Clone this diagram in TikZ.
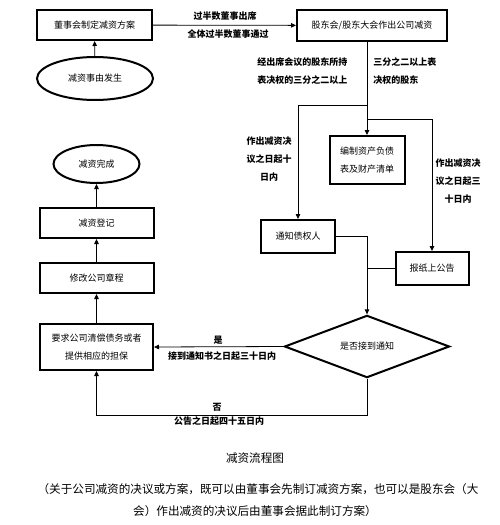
\documentclass[tikz,border=0pt]{standalone}
\usepackage{fontspec}
\setmainfont{Noto Sans CJK SC}
\usetikzlibrary{shapes.geometric,arrows.meta}

\begin{document}
\begin{tikzpicture}[x=1pt, y=-1pt, line width=0.8pt, >={Triangle[length=5pt,width=4.5pt]},
    main/.style = {draw, rectangle, line width=2pt, align=center, inner sep=0pt, font=\fontsize{9}{18}\selectfont},
    oval/.style = {draw, ellipse, line width=2pt, inner sep=0pt, font=\fontsize{9}{18}\selectfont},
    choice/.style = {draw, diamond, line width=2pt, inner sep=0pt, font=\fontsize{9}{18}\selectfont},
    note/.style = {align=center, inner sep=0pt, font=\bfseries\fontsize{9}{18}\selectfont},
    caption/.style = {inner sep=0pt, font=\fontsize{11.6}{22}\selectfont}]
    \useasboundingbox (0,0) rectangle (500,525);

    \node[main, minimum width=115pt, minimum height=30pt] (board)    at (94.5,25)   {董事会制定减资方案};
    \node[main, minimum width=150pt, minimum height=31pt] (meeting)  at (372,25.5)  {股东会/股东大会作出公司减资};
    \node[oval, minimum width=116pt, minimum height=43pt] (cause)    at (95,78.5)   {减资事由发生};
    \node[main, minimum width=75pt,  minimum height=48pt] (sheet)    at (367,160)   {编制资产负债\\表及财产清单};
    \node[main, minimum width=74pt,  minimum height=33pt] (notify)   at (298,236.5) {通知债权人};
    \node[main, minimum width=73pt,  minimum height=33pt] (paper)    at (432,268.5) {报纸上公告};
    \node[choice, minimum width=165pt, minimum height=57pt] (check)  at (367,346.5) {是否接到通知};
    \node[main, minimum width=113pt, minimum height=46pt] (demand)   at (96.5,347)  {要求公司清偿债务或者\\提供相应的担保};
    \node[main, minimum width=114pt, minimum height=30pt] (charter)  at (96.5,278)  {修改公司章程};
    \node[main, minimum width=114pt, minimum height=30pt] (register) at (96.5,223)  {减资登记};
    \node[oval, minimum width=86pt,  minimum height=38pt] (done)     at (96.5,164)  {减资完成};

    \coordinate (lsplit) at (367,105);
    \coordinate (rsplit) at (367,119);
    \coordinate (back)   at (96.5,415);

    \node[note] (t1) at (225,16)  {过半数董事出席};
    \node[note] (t2) at (228,34)  {全体过半数董事通过};
    \node[note, align=left, anchor=west] (t3) at (257,71) {经出席会议的股东所持\\表决权的三分之二以上};
    \node[note, align=left, anchor=west] (t4) at (373,71) {三分之二以上表\\决权的股东};
    \node[note] (t5) at (269,159) {作出减资决\\议之日起十\\日内};
    \node[note] (t6) at (458,181) {作出减资决\\议之日起三\\十日内};
    \node[note] (t7) at (218,340) {是};
    \node[note] (t8) at (222,356) {接到通知书之日起三十日内};
    \node[note] (t9) at (217,407) {否};
    \node[note] (t10) at (219,421) {公告之日起四十五日内};

    \node[caption] (title) at (255,458) {减资流程图};
    \node[caption] (c1) at (258,489) {（关于公司减资的决议或方案，既可以由董事会先制订减资方案，也可以是股东会（大};
    \node[caption] (c2) at (255,511) {会）作出减资的决议后由董事会据此制订方案）};

    \draw[->] (board) -- (meeting);
    \draw[->] (cause) -- (board);

    \draw[->] (sheet.north |- meeting.south) -- (sheet.north);
    \draw[->] (lsplit) -| (notify.north);
    \draw[->] (rsplit) -| (paper.north);

    \draw[->] (notify.east) -| (check.north);
    \draw (paper.west) -- (paper.west -| check.north);

    \draw[->] (check.west) -- (demand.east);
    \draw[->] (check.south) |- (back) -- (demand.south);

    \draw[->] (demand) -- (charter);
    \draw[->] (charter) -- (register);
    \draw[->] (register) -- (done);
\end{tikzpicture}
\end{document}
